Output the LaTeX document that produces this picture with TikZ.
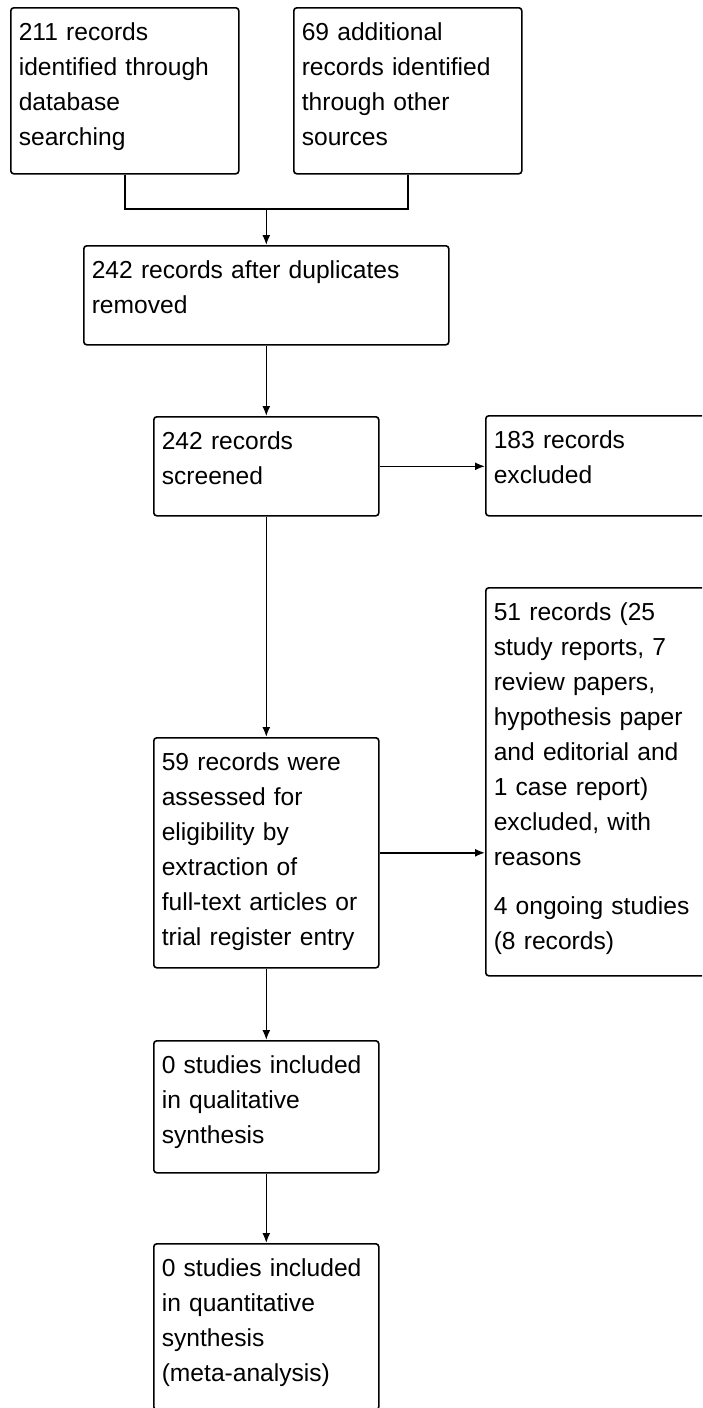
\documentclass[tikz,border=0pt]{standalone}
\usepackage{fontspec}
\setmainfont{Liberation Sans}
\usetikzlibrary{arrows.meta}

\tikzstyle{box} = [draw, rectangle, rounded corners=1.5pt, anchor=north west,
                   align=left, inner xsep=4pt, inner ysep=4pt,
                   text height=12.5pt,
                   font=\fontsize{12.3}{17.5}\selectfont]
\def\cLine{black}

\begin{document}
\begin{tikzpicture}[x=0.5pt,y=-0.5pt,line width=0.8pt,
                    >={Latex[length=5pt,width=4pt]}]

\useasboundingbox (0,0) rectangle (702,1408);
\clip (0,0) rectangle (702,1408);

% identification
\node[box,text width=106pt,text depth=62.5pt]
     at (10,7) (A)
     {211 records\\identified through\\database\\searching};
\node[box,text width=106pt,text depth=62.5pt]
     at (293,7) (B)
     {69 additional\\records identified\\through other\\sources};

\node[box,text width=174.5pt,text depth=29pt]
     at (83,245) (C)
     {242 records after duplicates\\removed};

% screening
\node[box,text width=104.5pt,text depth=29pt]
     at (153,416) (D)
     {242 records\\screened};
\node[box,text width=119.5pt,text depth=29.5pt]
     at (485,415) (E)
     {183 records\\excluded};

% eligibility
\node[box,text width=104.5pt,text depth=94.5pt]
     at (153,737) (F)
     {59 records were\\assessed for\\eligibility by\\extraction of\\full-text articles or\\trial register entry};
\node[box,text width=119.5pt,text depth=173.5pt]
     at (485,587) (G)
     {51 records (25\\study reports, 7\\review papers,\\hypothesis paper\\and editorial and\\1 case report)\\excluded, with\\reasons\\[7pt]4 ongoing studies\\(8 records)};

% included
\node[box,text width=104.5pt,text depth=45.5pt]
     at (153,1040) (H)
     {0 studies included\\in qualitative\\synthesis};
\node[box,text width=104.5pt,text depth=62.5pt]
     at (153,1243) (I)
     {0 studies included\\in quantitative\\synthesis\\(meta-analysis)};

\coordinate (merge) at (C.north |- 0,209);
\draw[\cLine] (A.south) |- (merge);
\draw[\cLine] (B.south) |- (merge);
\draw[->,\cLine] (merge) -- (C.north);

\draw[->,\cLine] (C.south) -- (D.north);
\draw[->,\cLine] (D.east) -- (D.east -| E.west);
\draw[->,\cLine] (D.south) -- (F.north);
\draw[->,\cLine] (F.east) -- (F.east -| G.west);
\draw[->,\cLine] (F.south) -- (H.north);
\draw[->,\cLine] (H.south) -- (I.north);

\end{tikzpicture}
\end{document}
